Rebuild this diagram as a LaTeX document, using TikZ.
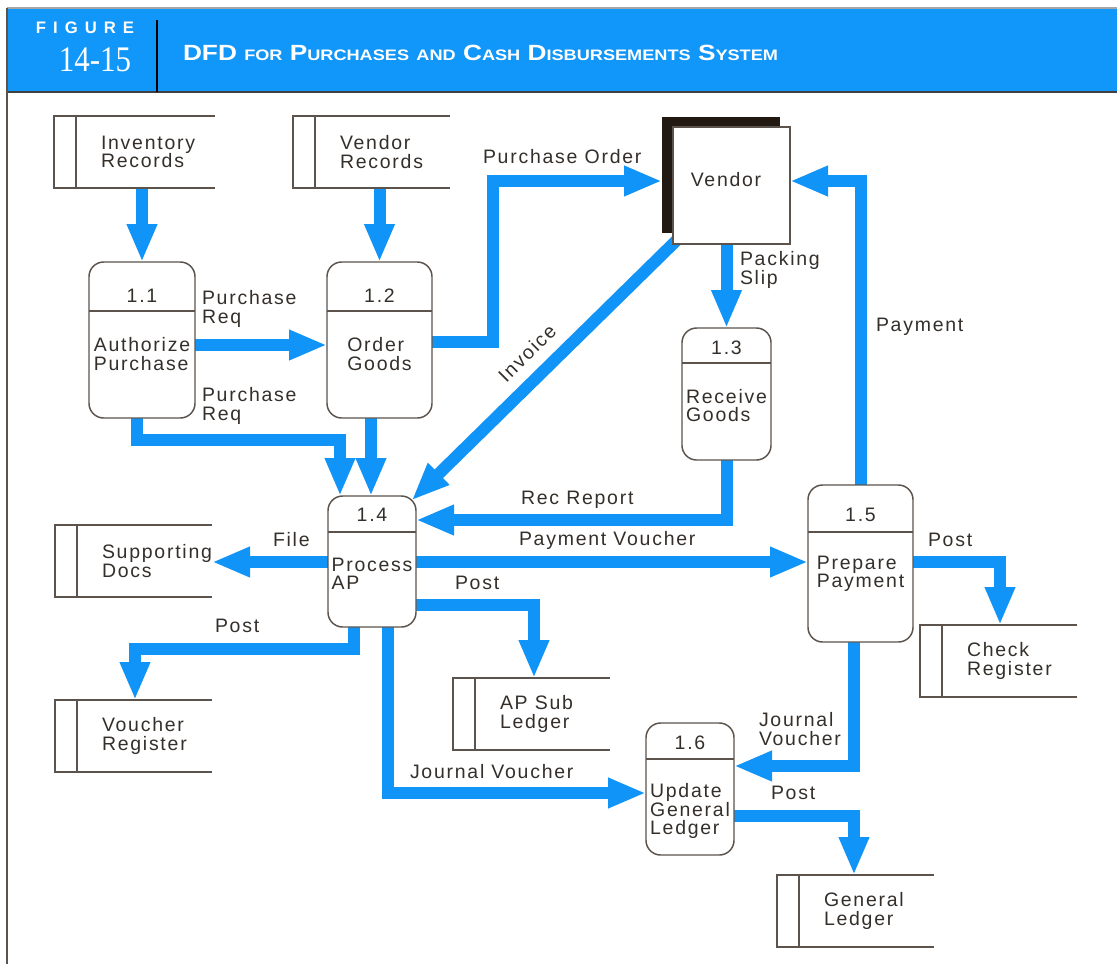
\documentclass[tikz,border=0pt]{standalone}
\usepackage{fontspec}
\usepackage{graphicx}
\setmainfont{Liberation Sans}
\newfontfamily\lblfont{Liberation Sans}[LetterSpace=9]
\newfontfamily\headfont{Liberation Sans}
\newfontfamily\numfont{Liberation Serif}
\usetikzlibrary{arrows.meta,fit,calc}

\definecolor{flowblue}{RGB}{17,148,247}
\definecolor{headblue}{RGB}{17,150,250}
\definecolor{inkgray}{RGB}{92,84,76}
\definecolor{txt}{RGB}{52,47,42}
\definecolor{shadowink}{RGB}{34,26,18}

\pgfdeclarelayer{paper}
\pgfdeclarelayer{flows}
\pgfsetlayers{paper,flows,main}

\tikzset{
  every node/.style={inner sep=0pt, outer sep=0pt},
  lbl/.style={font=\lblfont\fontsize{14.6}{13.9}\selectfont, text=txt, align=left, anchor=west},
  numlbl/.style={lbl, anchor=center},
  flow/.style={draw=flowblue, line width=9pt, -{Triangle[length=28.5pt,width=21pt]}},
  procbox/.style={draw=inkgray, line width=1.1pt, fill=white, rounded corners=11pt},
  edge line/.style={draw=inkgray, line width=1.1pt},
}

% process bubble: name, x1, y1, x2, y2, divider y
\newcommand\process[6]{%
  \node[procbox, fit={(#2,#3) (#4,#5)}] (#1) {};
  \draw[edge line] (#1.west |- 0,#6) -- (#1.east |- 0,#6);
}
% data store: name, x1, y1, x2, y2, text
\newcommand\datastore[6]{%
  \node[fit={(#2,#3) (#4,#5)}] (#1) {};
  \draw[edge line] (#1.north east) -- (#1.north west) -- (#1.south west) -- (#1.south east);
  \draw[edge line] ([xshift=16.5pt]#1.north west) -- ([xshift=16.5pt]#1.south west);
  \node[lbl] (#1-t) at ([xshift=35.25pt]#1.west) {#6};
}
\newcommand\smc[1]{{\fontsize{11.4}{12}\selectfont #1}}

\newsavebox\titlebox
\newdimen\titlewd
% set a line, then stretch it horizontally to a given width
\newcommand\fitwidth[2]{%
  \sbox\titlebox{#2}%
  \titlewd=\wd\titlebox
  \pgfmathsetmacro\titlesx{#1/\titlewd}%
  \scalebox{\titlesx}[1]{\usebox\titlebox}}

\begin{document}
\begin{tikzpicture}[x=0.75pt,y=-0.75pt]
\useasboundingbox (0,0) rectangle (1117,964);
\begin{pgfonlayer}{paper}
\fill[white] (0,0) rectangle (1117,964);
\end{pgfonlayer}

% banner
\fill[headblue] (7,8) rectangle (1117,92);
\draw[gray!70, line width=0.8pt] (7,8) -- (1117,8);
\draw[black!75, line width=1.2pt] (7,92) -- (1117,92);
\draw[inkgray, line width=1.6pt] (7,8) -- (7,964);
\draw[black, line width=1.5pt] (157,20) -- (157,92);

\node[anchor=west, text=white, font=\headfont\bfseries\fontsize{12.5}{12.5}\selectfont\addfontfeatures{LetterSpace=42}] (figword) at (36,28) {FIGURE};
\node[text=white, font=\numfont\fontsize{27}{27}\selectfont] (fignum) at (95,60) {\scalebox{0.86}[1]{14-15}};
\node[anchor=west, text=white] (title) at (183,53) {\fitwidth{446.25}{\headfont\bfseries\fontsize{16.5}{17}\selectfont DFD \smc{FOR} P\smc{URCHASES} \smc{AND} C\smc{ASH} D\smc{ISBURSEMENTS} S\smc{YSTEM}}};

% data stores
\datastore{inv}{54}{116}{215}{188}{Inventory\\Records}
\datastore{vrec}{293}{116}{450}{188}{Vendor\\Records}
\datastore{sdoc}{55}{525}{212}{597}{Supporting\\Docs}
\datastore{vreg}{55}{700}{212}{772}{Voucher\\Register}
\datastore{apsub}{453}{678}{610}{750}{AP Sub\\Ledger}
\datastore{chk}{920}{625}{1077}{697}{Check\\Register}
\datastore{gl}{777}{875}{934}{947}{General\\Ledger}

% processes
\process{p11}{89}{262}{195}{418}{311}
\node[numlbl] (p11n) at (142,296) {1.1};
\node[numlbl] (p11t) at (142,354) {Authorize\\Purchase};
\process{p12}{327}{262}{432}{418}{311}
\node[numlbl] (p12n) at (379.5,296) {1.2};
\node[numlbl] (p12t) at (379.5,354) {Order\\Goods};
\process{p13}{682}{328}{771}{460}{363}
\node[numlbl] (p13n) at (726.5,348) {1.3};
\node[numlbl] (p13t) at (726.5,405.5) {Receive\\Goods};
\process{p14}{328}{496}{416}{627}{532}
\node[numlbl] (p14n) at (372,515) {1.4};
\node[numlbl] (p14t) at (372,574) {Process\\AP};
\process{p15}{808}{485}{913}{642}{532}
\node[numlbl] (p15n) at (860.5,515) {1.5};
\node[numlbl] (p15t) at (860.5,574) {Prepare\\Payment};
\process{p16}{646}{723}{734}{855}{759}
\node[numlbl] (p16n) at (690,743) {1.6};
\node[numlbl] (p16t) at (690,811) {Update\\General\\Ledger};

% external entity with its heavy shadow
\fill[shadowink] (662,117) rectangle (780,233);
\node[draw=inkgray, line width=1.1pt, fill=white, fit={(673,127) (790,244)}] (vendor) {};
\node[numlbl] (vendort) at (726,180) {Vendor};

% data flows
\begin{pgfonlayer}{flows}
\draw[flow] (p11.north |- inv.south) -- (p11.north);
\draw[flow] (p12.north |- vrec.south) -- (p12.north);
\draw[flow] (p11.east |- 0,345) -- (p12.west |- 0,345);
\draw[flow] (137,0 |- p11.south) |- (340,440) -- (340,0 |- p14.north);
\draw[flow] (371,0 |- p12.south) -- (371,0 |- p14.north);
\draw[flow] (p12.east |- 0,342) -| (493,181) -- ($(vendor.west |- 0,181)+(-11,0)$);
\draw[flow] ($(vendor.south west)+(8,-8)$) -- ($(p14.north east)+(-4.4,4.4)$);
\draw[flow] (p13.north |- vendor.south) -- (p13.north);
\draw[flow] (p13.south) |- (p14.east |- 0,520);
\draw[flow] (p14.east |- 0,562) -- (p15.west |- 0,562);
\draw[flow] (p14.west |- 0,562) -- (sdoc.east |- 0,562);
\draw[flow] (p14.east |- 0,605) -| (534,0 |- apsub.north);
\draw[flow] (354,0 |- p14.south) |- (135,649) -- (135,0 |- vreg.north);
\draw[flow] (388,0 |- p14.south) |- (p16.west |- 0,793);
\draw[flow] (861,0 |- p15.north) |- (vendor.east |- 0,181);
\draw[flow] (p15.east |- 0,562) -| (1000,0 |- chk.north);
\draw[flow] (854,0 |- p15.south) |- (p16.east |- 0,766);
\draw[flow] (p16.east |- 0,816) -| (854,0 |- gl.north);
\end{pgfonlayer}

% flow labels
\node[lbl] (lpo) at (483,157) {Purchase Order};
\node[lbl] (lpr1) at (202,309) {Purchase\\Req};
\node[lbl] (lpr2) at (202,406) {Purchase\\Req};
\node[lbl, anchor=center, rotate=45] (linv) at (527,353) {Invoice};
\node[lbl] (lps) at (740,270) {Packing\\Slip};
\node[lbl] (lpay) at (876,327) {Payment};
\node[lbl] (lrr) at (521,500) {Rec Report};
\node[lbl] (lfile) at (273,540) {File};
\node[lbl] (lpv) at (519,540) {Payment Voucher};
\node[lbl] (lpost1) at (455,583) {Post};
\node[lbl] (lpost2) at (215,626) {Post};
\node[lbl] (lpost3) at (928,540) {Post};
\node[lbl] (ljv1) at (759,729) {Journal\\Voucher};
\node[lbl] (ljv2) at (410,772) {Journal Voucher};
\node[lbl] (lpost4) at (771,793) {Post};
\end{tikzpicture}
\end{document}
